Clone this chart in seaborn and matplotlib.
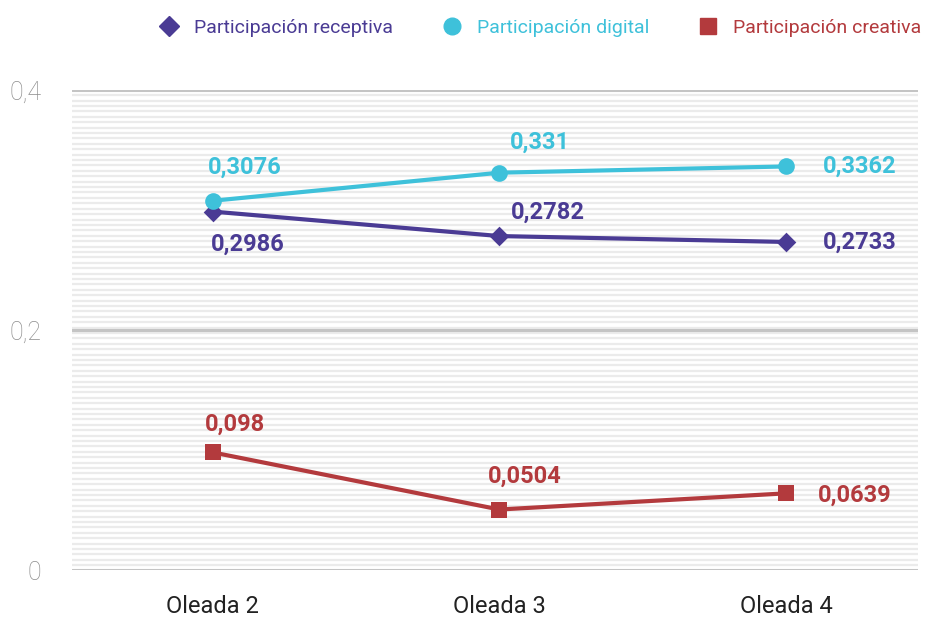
import numpy as np
import pandas as pd
import matplotlib.pyplot as plt
import seaborn as sns
from matplotlib.lines import Line2D

waves = ["Oleada 2", "Oleada 3", "Oleada 4"]
series = ["Participación receptiva", "Participación digital", "Participación creativa"]
receptiva = [0.2986, 0.2782, 0.2733]
digital = [0.3076, 0.331, 0.3362]
creativa = [0.098, 0.0504, 0.0639]
y_ticks = [0, 0.2, 0.4]
y_ticklabels = ["0", "0,2", "0,4"]

colors = {"Participación receptiva": "#4a3b94",
          "Participación digital": "#3ec1da",
          "Participación creativa": "#b33a3d"}
markers = {"Participación receptiva": "D",
           "Participación digital": "o",
           "Participación creativa": "s"}
msizes = {"Participación receptiva": 10,
          "Participación digital": 12,
          "Participación creativa": 11}

df = pd.DataFrame({
    "oleada": waves * 3,
    "x": list(range(3)) * 3,
    "serie": [series[0]] * 3 + [series[1]] * 3 + [series[2]] * 3,
    "valor": receptiva + digital + creativa,
})

sns.set_style("white")
plt.rcParams["font.family"] = ["Roboto", "DejaVu Sans"]

fig = plt.figure(figsize=(9.36, 6.24), dpi=100)
ax = fig.add_axes([0.077, 0.0865, 0.904, 0.7695])

# striped background
for yy in np.arange(0.004, 0.4, 0.0045):
    ax.axhline(yy, color="#ebebeb", lw=1.6, zorder=0)
for yy in y_ticks:
    ax.axhline(yy, color="#c4c4c4", lw=2.2, zorder=1)

sns.lineplot(data=df, x="x", y="valor", hue="serie", palette=colors,
             lw=3, legend=False, ax=ax, zorder=3)
for s in series:
    sub = df[df["serie"] == s]
    ax.scatter(sub["x"], sub["valor"], marker=markers[s], s=msizes[s] ** 2,
               color=colors[s], zorder=4, linewidths=0)

offsets = {
    series[0]: [(35, -33), (48, 24), (73, 0)],
    series[1]: [(32, 33), (40, 30), (73, 0)],
    series[2]: [(22, 28), (25, 33), (68, -2)],
}
for s in series:
    sub = df[df["serie"] == s].reset_index(drop=True)
    for i, row in sub.iterrows():
        ax.annotate(f"{row['valor']:g}".replace(".", ","), (row["x"], row["valor"]),
                    xytext=offsets[s][i], textcoords="offset pixels",
                    ha="center", va="center", fontsize=17, fontweight="bold",
                    color=colors[s])

ax.set_xlim(-0.49, 2.46)
ax.set_ylim(0, 0.4)
ax.set_xticks(range(3))
ax.set_xticklabels(waves, fontsize=17, color="#222222")
ax.set_yticks(y_ticks)
ax.set_yticklabels(y_ticklabels, fontsize=18, color="#8c8c8c", fontweight="light")
ax.tick_params(axis="x", length=0, pad=18)
ax.tick_params(axis="y", length=0, pad=22)
ax.set_xlabel("")
ax.set_ylabel("")
sns.despine(ax=ax, left=True, bottom=True)

handles = [Line2D([], [], ls="none", marker=markers[s], markersize=msizes[s],
                  color=colors[s], label=s) for s in series]
fig.legend(handles=handles, loc="center right", bbox_to_anchor=(1.003, 0.955), ncol=3,
           frameon=False, fontsize=14, labelcolor="linecolor", handletextpad=0.3,
           columnspacing=2.0)

plt.savefig("out.png", dpi=100)
